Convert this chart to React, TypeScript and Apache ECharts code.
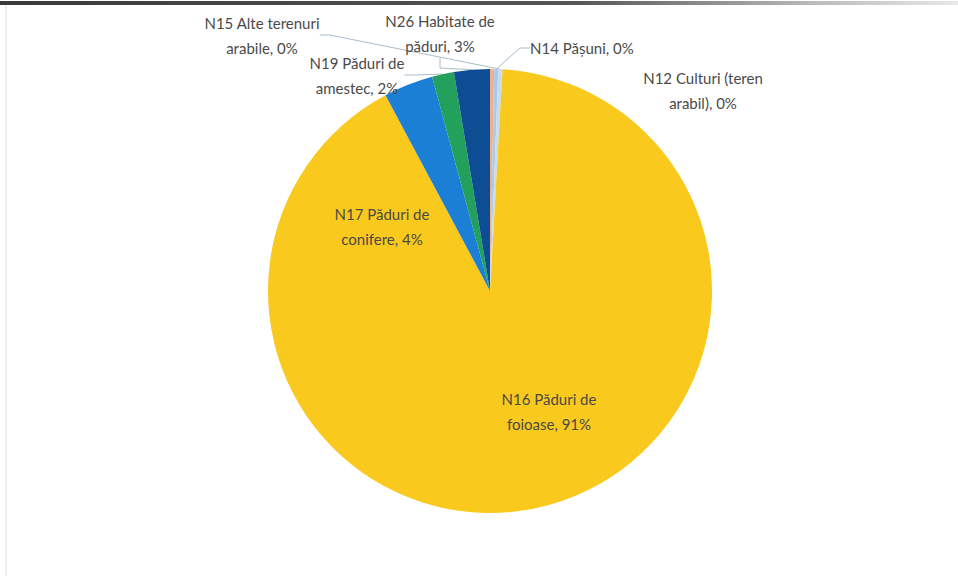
import React, { useEffect, useRef } from "react";
import * as echarts from "echarts";

const categories = [
  "N12 Culturi (teren\narabil)",
  "N14 Pășuni",
  "N15 Alte terenuri\narabile",
  "N16 Păduri de\nfoioase",
  "N17 Păduri de\nconifere",
  "N19 Păduri de\namestec",
  "N26 Habitate de\npăduri",
];
const values = [0.3, 0.3, 0.3, 91.3, 3.6, 1.6, 2.6];
const colors = ["#f2b08a", "#a9cbe8", "#c9dcef", "#f9c91e", "#1c7fd6", "#22a05c", "#0c4d93"];

// label layout (centers in px) for each slice, in the same order
const labelPos: [number, number, string][] = [
  [703, 90, "center"],
  [530, 48, "left"],
  [262, 35, "center"],
  [549, 411, "center"],
  [382, 226, "center"],
  [357, 75, "center"],
  [440, 33, "center"],
];
const showLine = [false, true, true, false, false, true, true];

export default function App() {
  const ref = useRef<HTMLDivElement>(null);
  useEffect(() => {
    document.body.style.margin = "0";
    const chart = echarts.init(ref.current!, null, { renderer: "svg" });
    const total = values.reduce((a, b) => a + b, 0);
    chart.setOption({
      animation: false,
      backgroundColor: "#ffffff",
      graphic: [
        {
          type: "rect",
          shape: { x: 0, y: 1, width: 958, height: 4 },
          style: {
            fill: new echarts.graphic.LinearGradient(0, 0, 1, 0, [
              { offset: 0, color: "#3a3a3a" },
              { offset: 0.6, color: "#555555" },
              { offset: 0.85, color: "#bbbbbb" },
              { offset: 1, color: "#e8e8e8" },
            ]),
          },
        },
        {
          type: "line",
          shape: { x1: 6, y1: 5, x2: 6, y2: 576 },
          style: { stroke: "#eeeeee", lineWidth: 2 },
        },
      ],
      series: [
        {
          type: "pie",
          center: [490, 291],
          radius: 222,
          startAngle: 90,
          clockwise: true,
          avoidLabelOverlap: false,
          itemStyle: { borderWidth: 0 },
          label: {
            show: true,
            position: "outside",
            fontFamily: "Lato, 'Open Sans', sans-serif",
            fontSize: 15,
            lineHeight: 25,
            color: "#4a4a4a",
            align: "center",
            formatter: (p: any) => `${p.name}, ${Math.round((p.value / total) * 100)}%`,
          },
          labelLine: {
            show: true,
            length: 10,
            length2: 10,
            lineStyle: { color: "#a8bccd", width: 1 },
          },
          labelLayout: (params: any) => {
            const p = labelPos[params.dataIndex];
            return { x: p[0], y: p[1], align: p[2], verticalAlign: "middle" };
          },
          data: categories.map((name, i) => ({
            name,
            value: values[i],
            itemStyle: { color: colors[i] },
            labelLine: { show: showLine[i] },
          })),
        },
      ],
    });
    return () => chart.dispose();
  }, []);
  return <div ref={ref} style={{ width: 958, height: 576 }} />;
}
